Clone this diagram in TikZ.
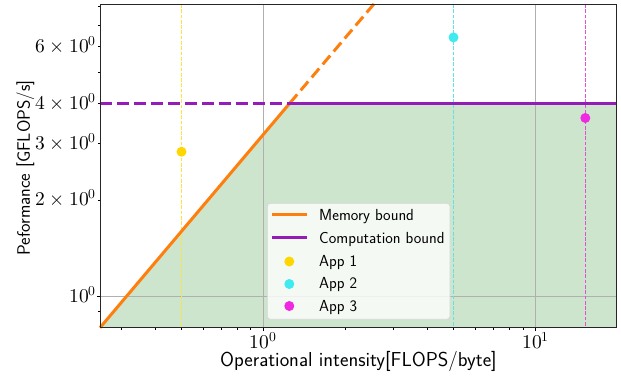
\documentclass[tikz,border=0pt]{standalone}
\usepackage{fontspec}
\usepackage{unicode-math}
\setmathfont{Latin Modern Math}
\definecolor{memc}{RGB}{255,127,14}
\definecolor{compc}{RGB}{150,28,186}
\definecolor{appAc}{RGB}{255,215,0}
\definecolor{appBc}{RGB}{64,235,240}
\definecolor{appCc}{RGB}{240,40,225}
\definecolor{appAl}{RGB}{255,225,70}
\definecolor{appBl}{RGB}{100,225,230}
\definecolor{appCl}{RGB}{225,80,215}
\definecolor{fillc}{RGB}{204,229,204}
\definecolor{gridc}{RGB}{176,176,176}
\definecolor{legedge}{RGB}{215,215,215}
\begin{document}
\begin{tikzpicture}[x=1pt,y=-1pt,
  ticklab/.style={font=\fontsize{19.5}{23}\selectfont, inner sep=0pt},
  xaxlab/.style={font=\sffamily\fontsize{20.2}{24}\selectfont, inner sep=0pt},
  yaxlab/.style={font=\sffamily\fontsize{18}{22}\selectfont, inner sep=0pt},
  leglab/.style={font=\sffamily\fontsize{16}{19}\selectfont, inner sep=0pt, anchor=base west},
  bound/.style={line width=3pt},
  dashbound/.style={line width=3pt, dash pattern=on 11.6pt off 5.4pt},
  appline/.style={line width=1.1pt, dash pattern=on 3.7pt off 1.6pt},
  appdot/.style={circle, inner sep=0pt, minimum size=10pt},
  gridline/.style={draw=gridc, line width=0.8pt},
  ticka/.style={line width=0.8pt, draw=black},
]
\useasboundingbox (0,0) rectangle (621,382);
% axes corners
\coordinate (ll) at (100,327.7);
\coordinate (ul) at (100,4);
\coordinate (ur) at (616.7,4);
\coordinate (lr) at (616.7,327.7);
\coordinate (kink) at (289.7,103.3);
\coordinate (cl) at (100,103.3);
\coordinate (cr) at (616.7,103.3);
\coordinate (mtop) at (373.9,4);
% attainable region
\fill[fillc] (ll) -- (kink) -- (cr) -- (lr) -- cycle;
% grid
\draw[gridline] (263.3,4) -- (263.3,327.7);
\draw[gridline] (535.7,4) -- (535.7,327.7);
\draw[gridline] (100,296.7) -- (616.7,296.7);
% application lines
\draw[appline, draw=appAl] (181.5,4) -- (181.5,327.7);
\draw[appline, draw=appBl] (453.5,4) -- (453.5,327.7);
\draw[appline, draw=appCl] (585.3,4) -- (585.3,327.7);
% roofline
\draw[bound, draw=memc] (ll) -- (kink);
\draw[dashbound, draw=memc] (kink) -- (mtop);
\draw[dashbound, draw=compc] (cl) -- (kink);
\draw[bound, draw=compc] (kink) -- (cr);
% applications
\node[appdot, fill=appAc] (a1) at (181.5,151.7) {};
\node[appdot, fill=appBc] (a2) at (453.5,37.4) {};
\node[appdot, fill=appCc] (a3) at (585.3,118) {};
% legend
\draw[draw=legedge, fill=white, fill opacity=0.8, line width=0.8pt, rounded corners=3pt] (267.3,203.3) rectangle (450,319.3);
\draw[bound, draw=memc] (271.7,215) -- (307,215);
\draw[bound, draw=compc] (271.7,237.5) -- (307,237.5);
\node[appdot, fill=appAc] (l1) at (289.3,261.5) {};
\node[appdot, fill=appBc] (l2) at (289.3,284) {};
\node[appdot, fill=appCc] (l3) at (289.3,306) {};
\node[leglab] (t0) at (319,221) {Memory bound};
\node[leglab] (t1) at (319,243.5) {Computation bound};
\node[leglab] (t2) at (319,266.3) {App 1};
\node[leglab] (t3) at (319,288.9) {App 2};
\node[leglab] (t4) at (319,311) {App 3};
% frame
\draw[line width=0.8pt, draw=black!85] (ll) -- (ul) -- (ur) -- (lr) -- cycle;
% x ticks
\foreach \x in {120.9,154.9,181.3,202.9,221.1,236.9,250.8,345.3,393.3,427.3,453.7,475.3,493.5,509.3,523.2}
  \draw[ticka] (\x,327.7) -- (\x,329.7);
\foreach \x in {263.3,535.7}
  \draw[ticka] (\x,327.7) -- (\x,331.2);
\node[ticklab, anchor=base] (x0) at (263.3,348.3) {$10^{0}$};
\node[ticklab, anchor=base] (x1) at (535.7,348.3) {$10^{1}$};
% y ticks
\foreach \y in {311.4,200.0,143.4,103.3,72.2,46.8,25.3,6.6}
  \draw[ticka] (100,\y) -- (98,\y);
\draw[ticka] (100,296.7) -- (96.5,296.7);
\node[ticklab, anchor=base east] (y1) at (96.5,302.7) {$10^{0}$};
\node[ticklab, anchor=base east] (y2) at (96.5,206) {$2\times10^{0}$};
\node[ticklab, anchor=base east] (y3) at (96.5,149.4) {$3\times10^{0}$};
\node[ticklab, anchor=base east] (y4) at (96.5,109.3) {$4\times10^{0}$};
\node[ticklab, anchor=base east] (y6) at (96.5,52.8) {$6\times10^{0}$};
% axis labels
\node[xaxlab, anchor=base] (xl) at (358.4,366.5) {Operational intensity[FLOPS/byte]};
\node[yaxlab, anchor=base, rotate=90] (yl) at (29.8,168) {Peformance [GFLOPS/s]};
\end{tikzpicture}
\end{document}
